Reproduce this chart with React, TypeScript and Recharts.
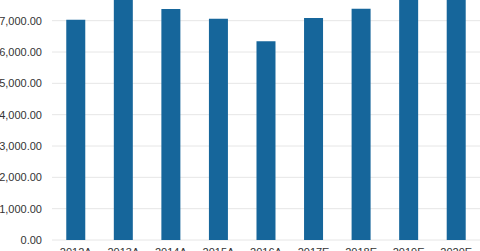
import React from "react";
import { Bar, BarChart, CartesianGrid, XAxis, YAxis } from "recharts";

const YEARS = ["2012A", "2013A", "2014A", "2015A", "2016A", "2017E", "2018E", "2019E", "2020E"];
const VALUES = [7030, 7900, 7370, 7060, 6340, 7085, 7380, 7720, 8050];
const Y_TICKS = [0, 1000, 2000, 3000, 4000, 5000, 6000, 7000, 8000, 9000];

const data = YEARS.map((year, i) => ({ year, value: VALUES[i] }));

const fmt = (v: number) =>
  v.toLocaleString("en-US", { minimumFractionDigits: 2, maximumFractionDigits: 2 });

const tickStyle = { fill: "#333", fontSize: 11, fontFamily: "Liberation Sans, Arial, sans-serif" };

export default function App() {
  return (
    <div
      style={{
        position: "absolute",
        left: 0,
        top: 0,
        width: 480,
        height: 251,
        overflow: "hidden",
        background: "#fff",
      }}
    >
      <div style={{ position: "absolute", left: 0, top: -47 }}>
        <BarChart
          width={480}
          height={322}
          data={data}
          margin={{ top: 5, right: 0, bottom: 5, left: 0 }}
          barCategoryGap="30%"
        >
          <CartesianGrid vertical={false} stroke="#e6e6e6" />
          <XAxis
            dataKey="year"
            axisLine={false}
            tickLine={false}
            tick={tickStyle}
            height={30}
            interval={0}
          />
          <YAxis
            domain={[0, 9000]}
            ticks={Y_TICKS}
            tickFormatter={fmt}
            axisLine={false}
            tickLine={false}
            tickSize={6}
            tickMargin={4}
            width={52}
            tick={tickStyle}
          />
          <Bar dataKey="value" fill="#16669b" isAnimationActive={false} />
        </BarChart>
      </div>
    </div>
  );
}
